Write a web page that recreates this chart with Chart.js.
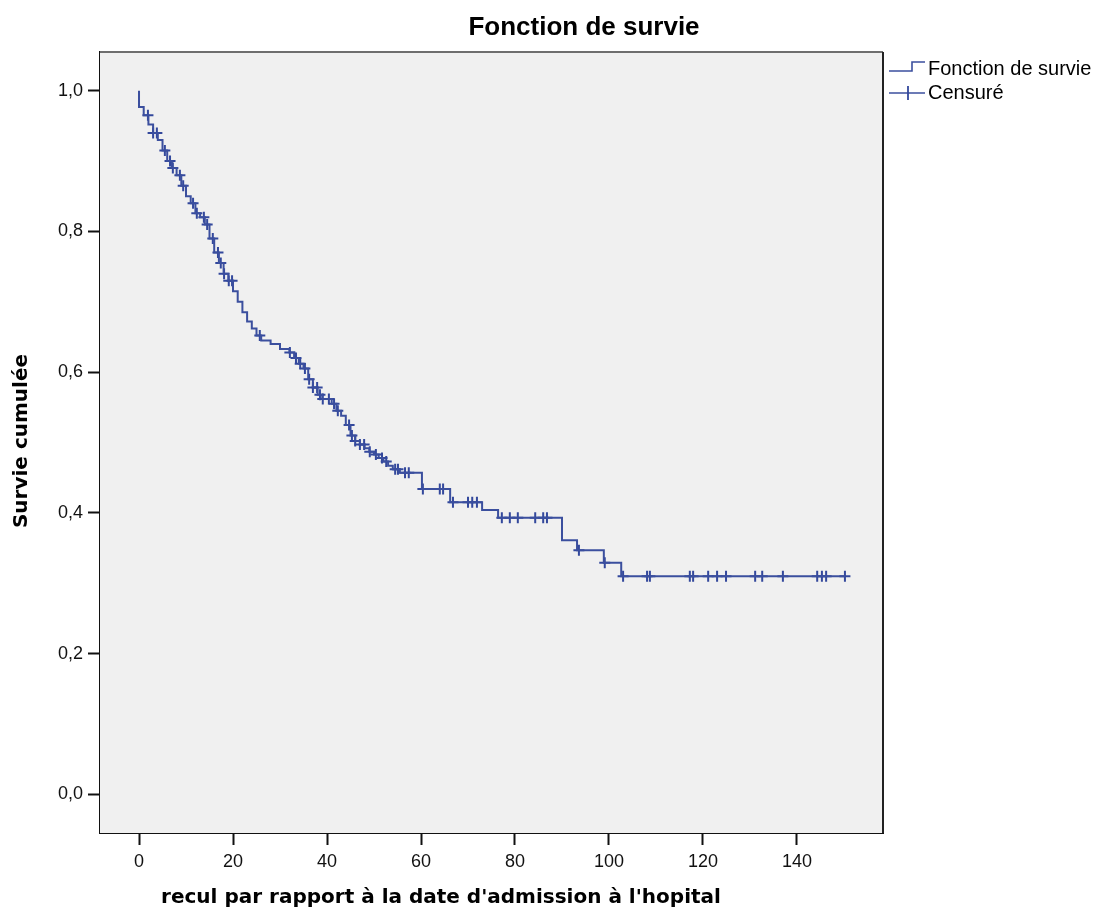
<!DOCTYPE html>
<html>
<head>
<meta charset="utf-8">
<script src="https://cdn.jsdelivr.net/npm/chart.js@4.4.1/dist/chart.umd.min.js"></script>
<style>
  html, body { margin: 0; padding: 0; background: #fff; }
  #wrap { width: 1105px; height: 921px; }
</style>
</head>
<body>
<div id="wrap"><canvas id="km" width="1105" height="921"></canvas></div>
<script>
/* Kaplan-Meier steps: time (x) and survival after the drop */
const stepTimes = [0, 0, 1, 2, 3, 4, 5, 6, 7, 8, 9, 10, 11, 12, 13, 14, 15, 16, 17, 18, 19, 20,
  21, 22, 23, 24, 25, 26, 28, 30, 32, 33, 34, 35, 36, 37, 38, 39, 41, 42, 43, 44, 45, 46, 47,
  48, 49, 50, 51, 52, 53, 54, 55.5, 60.2, 66.2, 73.0, 76.4, 90.0, 93.2, 98.9, 102.6, 150.2];
const stepSurv = [1.0, 0.977, 0.965, 0.952, 0.94, 0.93, 0.915, 0.90, 0.89, 0.88, 0.865, 0.85,
  0.84, 0.826, 0.82, 0.81, 0.79, 0.77, 0.755, 0.74, 0.73, 0.715, 0.70, 0.685, 0.672, 0.662,
  0.652, 0.645, 0.64, 0.633, 0.628, 0.62, 0.612, 0.605, 0.59, 0.578, 0.568, 0.562, 0.555,
  0.545, 0.538, 0.525, 0.51, 0.502, 0.497, 0.492, 0.487, 0.483, 0.478, 0.473, 0.467, 0.462,
  0.457, 0.434, 0.415, 0.404, 0.393, 0.361, 0.347, 0.329, 0.310, 0.310];

/* censored observations (times) */
const censorTimes = [1.9, 3.0, 3.8, 5.5, 6.6, 7.2, 8.7, 9.4, 11.5, 12.3, 13.8, 14.5, 15.7, 16.8,
  17.4, 18.1, 19.1, 19.8, 25.7, 32.1, 33.4, 34.3, 35.3, 36.2, 37.0, 37.9, 38.5, 39.1, 40.4,
  41.5, 42.3, 44.7, 45.3, 46.0, 47.0, 47.9, 49.1, 50.4, 51.7, 52.6, 54.5, 55.1, 56.6, 57.4,
  60.4, 64.0, 64.7, 66.8, 70.0, 70.9, 71.9, 77.2, 78.9, 80.6, 84.3, 86.0, 86.8, 93.6, 99.1,
  103.0, 108.1, 108.7, 117.2, 117.9, 121.1, 123.0, 124.9, 131.1, 132.6, 137.0, 144.3, 145.3,
  146.2, 150.2];

const xTicks = [0, 20, 40, 60, 80, 100, 120, 140];
const yTicks = [0, 0.2, 0.4, 0.6, 0.8, 1.0];

const titleText = "Fonction de survie";
const xTitle = "recul par rapport à la date d'admission à l'hopital";
const yTitle = "Survie cumulée";
const legendLabels = ["Fonction de survie", "Censuré"];

const lineColor = "#3b4f9e";
const crossColor = "#33489c";

/* survival level at a given time (last step at or before t) */
function survAt(t) {
  let s = stepSurv[0];
  for (let i = 0; i < stepTimes.length; i++) {
    if (stepTimes[i] <= t) s = stepSurv[i];
  }
  return s;
}

const curve = stepTimes.map((t, i) => ({ x: t, y: stepSurv[i] }));
const censored = censorTimes.map((t) => ({ x: t, y: survAt(t) }));

/* grey plot background, frame, title, axis titles, legend */
const decor = {
  id: "decor",
  beforeDatasetsDraw(chart) {
    const { ctx, chartArea: a } = chart;
    ctx.save();
    ctx.fillStyle = "#f0f0f0";
    ctx.fillRect(a.left, a.top, a.right - a.left, a.bottom - a.top);
    ctx.restore();
  },
  afterDraw(chart) {
    const { ctx, chartArea: a } = chart;
    ctx.save();
    // frame
    ctx.strokeStyle = "#6e6e6e";
    ctx.lineWidth = 2;
    ctx.beginPath();
    ctx.moveTo(a.left, a.top);
    ctx.lineTo(a.right, a.top);
    ctx.stroke();
    ctx.strokeStyle = "#222";
    ctx.lineWidth = 2;
    ctx.beginPath();
    ctx.moveTo(a.right, a.top);
    ctx.lineTo(a.right, a.bottom);
    ctx.stroke();

    ctx.fillStyle = "#000";
    ctx.textAlign = "center";
    ctx.textBaseline = "middle";
    ctx.font = "bold 26px 'Liberation Sans', Arial, sans-serif";
    ctx.fillText(titleText, 584, 28);

    ctx.font = "bold 20px 'DejaVu Sans', Verdana, sans-serif";
    ctx.fillText(xTitle, 441, 898);

    ctx.save();
    ctx.translate(22, 441);
    ctx.rotate(-Math.PI / 2);
    ctx.fillText(yTitle, 0, 0);
    ctx.restore();

    // legend
    ctx.strokeStyle = lineColor;
    ctx.lineWidth = 1.6;
    ctx.beginPath();
    ctx.moveTo(889, 71);
    ctx.lineTo(912, 71);
    ctx.lineTo(912, 62);
    ctx.lineTo(925, 62);
    ctx.stroke();
    ctx.beginPath();
    ctx.moveTo(889, 93);
    ctx.lineTo(925, 93);
    ctx.stroke();
    ctx.strokeStyle = crossColor;
    ctx.lineWidth = 1.8;
    ctx.beginPath();
    ctx.moveTo(908, 86);
    ctx.lineTo(908, 100);
    ctx.stroke();

    ctx.fillStyle = "#000";
    ctx.textAlign = "left";
    ctx.font = "20px 'Liberation Sans', Arial, sans-serif";
    ctx.fillText(legendLabels[0], 928, 69);
    ctx.fillText(legendLabels[1], 928, 93);
    ctx.restore();
  },
};

const tickFont = { family: "'Liberation Sans', Arial, sans-serif", size: 18 };

new Chart(document.getElementById("km"), {
  type: "scatter",
  data: {
    datasets: [
      {
        label: legendLabels[0],
        data: curve,
        showLine: true,
        stepped: true,
        borderColor: lineColor,
        borderWidth: 2,
        pointRadius: 0,
        fill: false,
      },
      {
        label: legendLabels[1],
        data: censored,
        showLine: false,
        pointStyle: "cross",
        pointRadius: 5.5,
        pointBorderWidth: 2,
        pointBorderColor: crossColor,
        pointBackgroundColor: crossColor,
      },
    ],
  },
  plugins: [decor],
  options: {
    responsive: false,
    animation: false,
    layout: { padding: { top: 52, right: 222, left: 0, bottom: 0 } },
    plugins: { legend: { display: false }, title: { display: false }, tooltip: { enabled: false } },
    scales: {
      x: {
        type: "linear",
        min: -8.3,
        max: 158.3,
        afterBuildTicks: (s) => { s.ticks = xTicks.map((v) => ({ value: v })); },
        afterFit: (s) => { s.height = 88; },
        ticks: { color: "#111", font: tickFont, padding: 6, maxRotation: 0 },
        grid: { drawOnChartArea: false, drawTicks: true, tickLength: 12, tickColor: "#111", tickWidth: 2 },
        border: { color: "#111", width: 2 },
      },
      y: {
        type: "linear",
        min: -0.055,
        max: 1.055,
        afterBuildTicks: (s) => { s.ticks = yTicks.map((v) => ({ value: v })); },
        afterFit: (s) => { s.width = 100; },
        ticks: {
          color: "#111",
          font: tickFont,
          padding: 5,
          callback: (v) => v.toFixed(1).replace(".", ","),
        },
        grid: { drawOnChartArea: false, drawTicks: true, tickLength: 12, tickColor: "#111", tickWidth: 2 },
        border: { color: "#111", width: 2 },
      },
    },
  },
});
</script>
</body>
</html>
